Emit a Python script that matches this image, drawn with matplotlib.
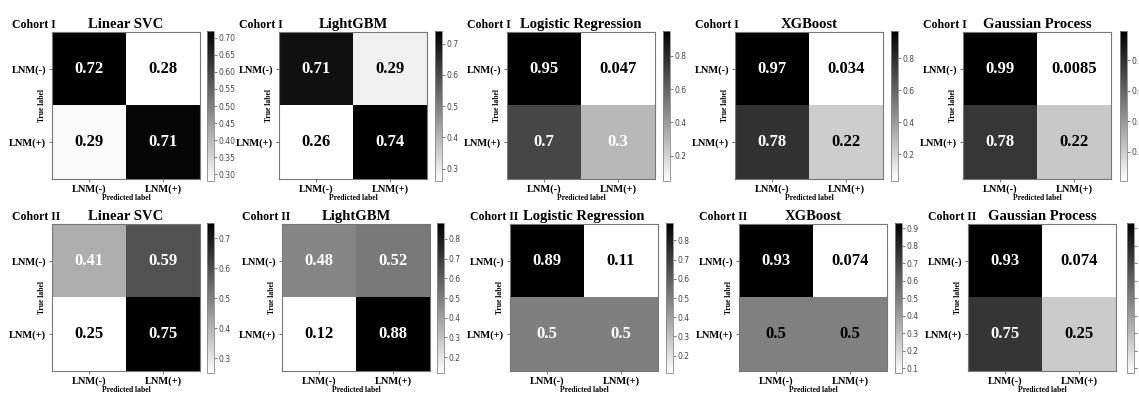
import numpy as np
import matplotlib
matplotlib.use("Agg")
import matplotlib.pyplot as plt

# ---------------------------------------------------------------------------
# data: normalised confusion matrices (rows = true, cols = predicted)
# ---------------------------------------------------------------------------
MODELS = ["Linear SVC", "LightGBM", "Logistic Regression", "XGBoost", "Gaussian Process"]
COHORTS = ["Cohort I", "Cohort II"]
CLASS_LABELS = ["LNM(-)", "LNM(+)"]

svc_c1 = [[0.72, 0.28], [0.29, 0.71]]
lgbm_c1 = [[0.71, 0.29], [0.26, 0.74]]
lr_c1 = [[0.95, 0.047], [0.7, 0.3]]
xgb_c1 = [[0.97, 0.034], [0.78, 0.22]]
gp_c1 = [[0.99, 0.0085], [0.78, 0.22]]

svc_c2 = [[0.41, 0.59], [0.25, 0.75]]
lgbm_c2 = [[0.48, 0.52], [0.12, 0.88]]
lr_c2 = [[0.89, 0.11], [0.5, 0.5]]
xgb_c2 = [[0.93, 0.074], [0.5, 0.5]]
gp_c2 = [[0.93, 0.074], [0.75, 0.25]]

MATRICES = [
    [svc_c1, lgbm_c1, lr_c1, xgb_c1, gp_c1],
    [svc_c2, lgbm_c2, lr_c2, xgb_c2, gp_c2],
]

# ---------------------------------------------------------------------------
# style: which cells get white annotation text (as in the source figure)
# ---------------------------------------------------------------------------
WHITE_TEXT = [
    [[[1, 0], [0, 1]], [[1, 0], [0, 1]], [[1, 0], [1, 1]], [[1, 0], [1, 0]], [[1, 0], [1, 0]]],
    [[[1, 1], [0, 1]], [[1, 1], [0, 1]], [[1, 0], [1, 1]], [[1, 0], [0, 0]], [[1, 0], [1, 0]]],
]

# layout in pixels (left of heatmap, left of colorbar) per row
W, H = 1139, 394
HM_LEFT = [[52, 279, 507, 735, 963], [52, 282, 510, 739, 968]]
CB_LEFT = [[207, 435, 663, 891, 1120], [207, 437, 666, 895, 1127]]
HM_TOP = [32, 224]
HM_SIZE = 148
CB_W = 7

SERIF = "Liberation Serif"

fig = plt.figure(figsize=(W / 100, H / 100), dpi=100)
fig.patch.set_facecolor("white")


def px_rect(left, top, width, height):
    return [left / W, 1 - (top + height) / H, width / W, height / H]


for r in range(2):
    for c in range(5):
        cm = np.array(MATRICES[r][c], dtype=float)
        ax = fig.add_axes(px_rect(HM_LEFT[r][c], HM_TOP[r], HM_SIZE, HM_SIZE - 1))
        im = ax.imshow(cm, cmap="gray_r", vmin=cm.min(), vmax=cm.max(),
                       aspect="auto", interpolation="nearest")

        for i in range(2):
            for j in range(2):
                col = "white" if WHITE_TEXT[r][c][i][j] else "black"
                ax.text(j, i, f"{cm[i, j]:.2g}", ha="center", va="center",
                        color=col, fontsize=12, fontweight="bold", family=SERIF)

        ax.set_xticks([0, 1])
        ax.set_yticks([0, 1])
        ax.set_xticklabels(CLASS_LABELS, fontsize=7.5, fontweight="bold", family=SERIF)
        ax.set_yticklabels(CLASS_LABELS, fontsize=7.5, fontweight="bold", family=SERIF)
        ax.tick_params(length=2.5, width=0.6, color="#555555", pad=1.5)
        for sp in ax.spines.values():
            sp.set_color("#777777")
            sp.set_linewidth(0.8)

        ax.set_title(MODELS[c], fontsize=10.5, fontweight="bold", family=SERIF, pad=3)
        ax.text(-0.27, 1.005, COHORTS[r], transform=ax.transAxes, ha="left", va="bottom",
                fontsize=8.5, fontweight="bold", family=SERIF)
        ax.text(-0.07, 0.5, "True label", transform=ax.transAxes, rotation=90,
                ha="center", va="center", fontsize=5.5, fontweight="bold", family=SERIF)
        ax.text(0.5, -0.13, "Predicted label", transform=ax.transAxes,
                ha="center", va="center", fontsize=5.5, fontweight="bold", family=SERIF)

        cax = fig.add_axes(px_rect(CB_LEFT[r][c], HM_TOP[r] - 1, CB_W, HM_SIZE + 2))
        cb = fig.colorbar(im, cax=cax)
        cb.ax.tick_params(labelsize=5.5, length=2, width=0.5, pad=1,
                          colors="#444444")
        cb.outline.set_edgecolor("#888888")
        cb.outline.set_linewidth(0.6)

fig.savefig("out.png", dpi=100, facecolor=fig.get_facecolor())
